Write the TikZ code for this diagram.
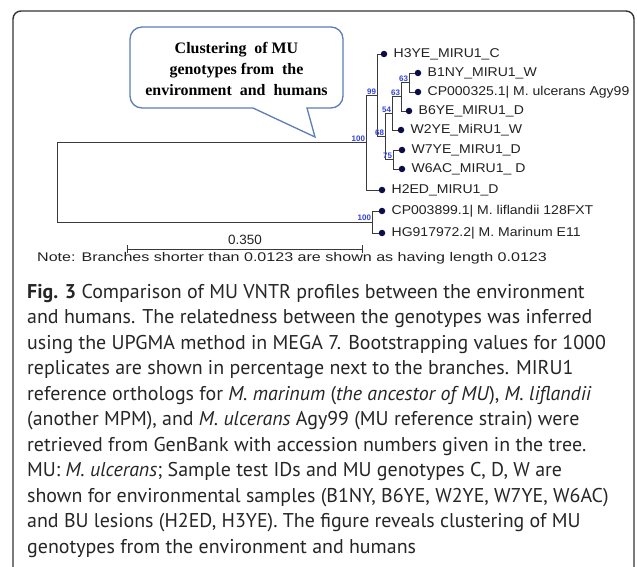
\documentclass[tikz,border=0pt]{standalone}
\usepackage{fontspec}
\setmainfont{Liberation Sans}
\newfontfamily\arialf{Liberation Sans}
\newfontfamily\leaff[FakeStretch=1.1]{Liberation Sans}
\newfontfamily\notef[FakeStretch=1.28]{Liberation Sans}
\newfontfamily\capf{PT Sans}
\newfontfamily\timesf{Liberation Serif}
\definecolor{framec}{HTML}{333333}
\definecolor{callc}{HTML}{5B7DB8}
\definecolor{treec}{HTML}{3A3A3A}
\definecolor{dotc}{HTML}{0D0D45}
\definecolor{bsc}{HTML}{3344DD}
\definecolor{txtc}{HTML}{222222}
\tikzset{
  frameline/.style={draw=framec, line width=1.4bp},
  calloutline/.style={draw=callc, line width=1.3bp, fill=white},
  branch/.style={draw=treec, line width=0.9bp},
  leafdot/.style={circle, fill=dotc, inner sep=0pt, minimum size=6.5bp},
  leaflab/.style={anchor=west, inner sep=0pt, text=txtc, font=\leaff\fontsize{12.8}{14}\selectfont},
  bs/.style={anchor=south east, inner sep=0.8bp, text=bsc, font=\arialf\bfseries\fontsize{8}{9}\selectfont},
  capline/.style={anchor=base west, inner sep=0pt, text=black!85, font=\capf\fontsize{20}{23}\selectfont},
}
\begin{document}
\begin{tikzpicture}[x=1bp,y=-1bp]
\useasboundingbox (0,0) rectangle (637,567);
\fill[white] (0,0) rectangle (637,567);
% outer frame
\draw[frameline, rounded corners=8bp] (13,590) -- (13,11) -- (634,11) -- (634,590);

% callout
\draw[calloutline] (253,108) [rounded corners=12bp] -- (130,108) -- (130,27) -- (343,27) -- (343,108) [sharp corners] -- (307,108) -- (315,137) -- cycle;
\node[align=center, inner sep=0pt, font=\timesf\bfseries\fontsize{16}{21}\selectfont] (callt) at (236.5,69)
  {Clustering\ \ of\ MU\\ genotypes from\ \ the\\ environment\ \ and\ \ humans};

% internal nodes
\coordinate (n63a) at (409,82.5);
\coordinate (n63b) at (401,96.75);
\coordinate (n54) at (392,113.4);
\coordinate (n75) at (393,159.5);
\coordinate (n68) at (385,136.4);
\coordinate (n99) at (377,95.2);
\coordinate (nMU) at (366,142.6);
\coordinate (nOut) at (372,222);
\coordinate (root) at (57,182.3);

% leaves
\node[leafdot] (H3YE) at (384,54) {};
\node[leafdot] (B1NY) at (418,73) {};
\node[leafdot] (CPa) at (418,92) {};
\node[leafdot] (B6YE) at (409,111) {};
\node[leafdot] (W2YE) at (401,130) {};
\node[leafdot] (W7YE) at (402,150) {};
\node[leafdot] (W6AC) at (402,169) {};
\node[leafdot] (H2ED) at (382,190) {};
\node[leafdot] (CPb) at (382,211) {};
\node[leafdot] (HG) at (382,233) {};

\node[leaflab] (tH3YE) at ([xshift=6bp]H3YE.east) {H3YE\_MIRU1\_C};
\node[leaflab] (tB1NY) at ([xshift=6bp]B1NY.east) {B1NY\_MIRU1\_W};
\node[leaflab] (tCPa) at ([xshift=6bp]CPa.east) {CP000325.1| M. ulcerans Agy99};
\node[leaflab] (tB6YE) at ([xshift=6bp]B6YE.east) {B6YE\_MIRU1\_D};
\node[leaflab] (tW2YE) at ([xshift=6bp]W2YE.east) {W2YE\_MiRU1\_W};
\node[leaflab] (tW7YE) at ([xshift=6bp]W7YE.east) {W7YE\_MIRU1\_D};
\node[leaflab] (tW6AC) at ([xshift=6bp]W6AC.east) {W6AC\_MIRU1\_ D};
\node[leaflab] (tH2ED) at ([xshift=6bp]H2ED.east) {H2ED\_MIRU1\_D};
\node[leaflab] (tCPb) at ([xshift=6bp]CPb.east) {CP003899.1| M. liflandii 128FXT};
\node[leaflab] (tHG) at ([xshift=6bp]HG.east) {HG917972.2| M. Marinum E11};

% branches
\draw[branch] (n63a) |- (B1NY);
\draw[branch] (n63a) |- (CPa);
\draw[branch] (n63b) |- (n63a);
\draw[branch] (n63b) |- (B6YE);
\draw[branch] (n54) |- (n63b);
\draw[branch] (n54) |- (W2YE);
\draw[branch] (n75) |- (W7YE);
\draw[branch] (n75) |- (W6AC);
\draw[branch] (n68) |- (n54);
\draw[branch] (n68) |- (n75);
\draw[branch] (n99) |- (H3YE);
\draw[branch] (n99) |- (n68);
\draw[branch] (nMU) |- (n99);
\draw[branch] (nMU) |- (H2ED);
\draw[branch] (nOut) |- (CPb);
\draw[branch] (nOut) |- (HG);
\draw[branch] (root) |- (nMU);
\draw[branch] (root) |- (nOut);

% bootstrap values
\node[bs] (b63a) at (n63a) {63};
\node[bs] (b63b) at (n63b) {63};
\node[bs] (b54) at (n54) {54};
\node[bs] (b75) at (n75) {75};
\node[bs] (b68) at (n68) {68};
\node[bs] (b99) at (n99) {99};
\node[bs] (bMU) at (nMU) {100};
\node[bs] (bOut) at (nOut) {100};

% scale bar
\coordinate (sbl) at (127,249);
\coordinate (sbr) at (362,249);
\draw[branch] (sbl) -- (sbr);
\draw[branch] ([yshift=4bp]sbl) -- ([yshift=-4bp]sbl);
\draw[branch] ([yshift=4bp]sbr) -- ([yshift=-4bp]sbr);
\node[inner sep=0pt, text=txtc, font=\arialf\fontsize{13.5}{15}\selectfont] (sbt) at (245,240) {0.350};
\node[anchor=west, inner sep=0pt, text=txtc, font=\notef\fontsize{12.6}{14}\selectfont] (note) at (37,258)
  {Note: Branches shorter than 0.0123 are shown as having length 0.0123};

% caption
\node[capline] (c1) at (27,298) {\textbf{Fig. 3} Comparison of MU VNTR profiles between the environment};
\node[capline] (c2) at (27,323.5) {and humans. The relatedness between the genotypes was inferred};
\node[capline] (c3) at (27,349) {using the UPGMA method in MEGA 7. Bootstrapping values for 1000};
\node[capline] (c4) at (27,374.5) {replicates are shown in percentage next to the branches. MIRU1};
\node[capline] (c5) at (27,400) {reference orthologs for \textit{M. marinum} (\textit{the ancestor of MU}), \textit{M. liflandii}};
\node[capline] (c6) at (27,425.5) {(another MPM), and \textit{M. ulcerans} Agy99 (MU reference strain) were};
\node[capline] (c7) at (27,451) {retrieved from GenBank with accession numbers given in the tree.};
\node[capline] (c8) at (27,476.5) {MU: \textit{M. ulcerans}; Sample test IDs and MU genotypes C, D, W are};
\node[capline] (c9) at (27,502) {shown for environmental samples (B1NY, B6YE, W2YE, W7YE, W6AC)};
\node[capline] (c10) at (27,527.5) {and BU lesions (H2ED, H3YE). The figure reveals clustering of MU};
\node[capline] (c11) at (27,553) {genotypes from the environment and humans};
\end{tikzpicture}
\end{document}
